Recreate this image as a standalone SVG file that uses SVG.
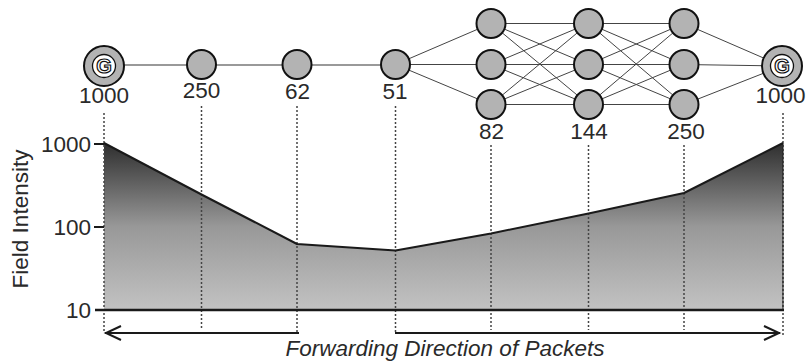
<svg xmlns="http://www.w3.org/2000/svg" width="808" height="363" viewBox="0 0 808 363">
<defs>
<linearGradient id="fill" gradientUnits="userSpaceOnUse" x1="0" y1="143" x2="0" y2="310">
<stop offset="0" stop-color="#2e2e2e"/>
<stop offset="0.5" stop-color="#989898"/>
<stop offset="1" stop-color="#c2c2c2"/>
</linearGradient>
</defs>
<style>
.n{fill:#b3b3b3;stroke:#111;stroke-width:2}
.e{stroke:#444;stroke-width:1;fill:none}
.h{stroke:#777;stroke-width:1.3;fill:none}
.d{stroke:#444;stroke-width:1.5;stroke-dasharray:2 2;fill:none}
.t{font-family:"Liberation Sans",Arial,sans-serif;font-size:22.5px;fill:#2a2a2a}
.m{text-anchor:middle}
.r{text-anchor:end}
.g{font-family:"Liberation Sans",Arial,sans-serif;font-size:20px;font-weight:bold;fill:#fff;stroke:#111;stroke-width:1.2;text-anchor:middle}
.gi{fill:#fff;stroke:#111;stroke-width:1.3}
.ax{stroke:#1a1a1a;stroke-width:2.5;fill:none}
.ar{stroke:#1a1a1a;stroke-width:2;fill:none}
</style>
<rect width="808" height="363" fill="#fff"/>

<!-- chart -->
<g id="chart">
<polygon points="104,310 104,143 201.5,194.5 297,244 395.5,250.5 491,233.5 588.5,213.5 684,193 783,143 783,310" fill="url(#fill)"/>
<g id="guides">
<line class="d" x1="104" y1="113" x2="104" y2="333"/>
<line class="d" x1="201.5" y1="106" x2="201.5" y2="330"/>
<line class="d" x1="297" y1="106" x2="297" y2="333"/>
<line class="d" x1="395.5" y1="106" x2="395.5" y2="333"/>
<line class="d" x1="491" y1="145" x2="491" y2="330"/>
<line class="d" x1="588.5" y1="145" x2="588.5" y2="330"/>
<line class="d" x1="684" y1="145" x2="684" y2="330"/>
<line class="d" x1="783" y1="113" x2="783" y2="336"/>
</g>
<polyline class="ar" stroke-linejoin="round" points="104,143 201.5,194.5 297,244 395.5,250.5 491,233.5 588.5,213.5 684,193 783,143"/>
<line x1="783" y1="143" x2="783" y2="310" stroke="#1a1a1a" stroke-width="1"/>
<line class="ax" x1="95" y1="310" x2="784" y2="310"/>
<line class="ar" x1="94" y1="144" x2="104" y2="144"/>
<line class="ar" x1="94" y1="227" x2="104" y2="227"/>
<text class="t r" x="91" y="152">1000</text>
<text class="t r" x="91" y="235">100</text>
<text class="t r" x="91" y="318">10</text>
<text class="t m" transform="translate(28,219) rotate(-90)">Field Intensity</text>
<line class="ar" x1="105" y1="333" x2="299" y2="333"/>
<polyline class="ar" points="121,326 106,333 121,340"/>
<line class="ar" x1="395" y1="333" x2="780" y2="333"/>
<polyline class="ar" points="764,326 779,333 764,340"/>
<text class="t m" x="445" y="356" font-style="italic" font-size="23">Forwarding Direction of Packets</text>
</g>

<!-- connectors -->
<g id="connectors">
<line class="h" x1="104" y1="65" x2="395.5" y2="65"/>
<line class="e" x1="395.5" y1="64.5" x2="491" y2="23.5"/>
<line class="e" x1="395.5" y1="64.5" x2="491" y2="64.5"/>
<line class="e" x1="395.5" y1="64.5" x2="491" y2="104.5"/>
<line class="e" x1="491" y1="23.5" x2="588.5" y2="23.5"/>
<line class="e" x1="491" y1="23.5" x2="588.5" y2="64.5"/>
<line class="e" x1="491" y1="23.5" x2="588.5" y2="104.5"/>
<line class="e" x1="491" y1="64.5" x2="588.5" y2="23.5"/>
<line class="e" x1="491" y1="64.5" x2="588.5" y2="64.5"/>
<line class="e" x1="491" y1="64.5" x2="588.5" y2="104.5"/>
<line class="e" x1="491" y1="104.5" x2="588.5" y2="23.5"/>
<line class="e" x1="491" y1="104.5" x2="588.5" y2="64.5"/>
<line class="e" x1="491" y1="104.5" x2="588.5" y2="104.5"/>
<line class="e" x1="588.5" y1="23.5" x2="684" y2="23.5"/>
<line class="e" x1="588.5" y1="23.5" x2="684" y2="64.5"/>
<line class="e" x1="588.5" y1="23.5" x2="684" y2="104.5"/>
<line class="e" x1="588.5" y1="64.5" x2="684" y2="23.5"/>
<line class="e" x1="588.5" y1="64.5" x2="684" y2="64.5"/>
<line class="e" x1="588.5" y1="64.5" x2="684" y2="104.5"/>
<line class="e" x1="588.5" y1="104.5" x2="684" y2="23.5"/>
<line class="e" x1="588.5" y1="104.5" x2="684" y2="64.5"/>
<line class="e" x1="588.5" y1="104.5" x2="684" y2="104.5"/>
<line class="e" x1="684" y1="23.5" x2="782" y2="66"/>
<line class="e" x1="684" y1="64.5" x2="782" y2="66"/>
<line class="e" x1="684" y1="104.5" x2="782" y2="66"/>
</g>

<!-- nodes -->
<g id="gw-left"><circle class="n" cx="104" cy="66" r="20"/><circle class="gi" cx="104" cy="66" r="11.5"/><text class="g" x="104" y="73.2">G</text><text class="t m" x="104" y="103">1000</text></g>
<g id="n250a"><circle class="n" cx="201.5" cy="64.5" r="14.5"/><text class="t m" x="201.5" y="98">250</text></g>
<g id="n62"><circle class="n" cx="297" cy="64.5" r="14.5"/><text class="t m" x="297.5" y="99">62</text></g>
<g id="n51"><circle class="n" cx="395.5" cy="64.5" r="14.5"/><text class="t m" x="395" y="99">51</text></g>
<g id="c1a"><circle class="n" cx="491" cy="23.5" r="14.5"/></g>
<g id="c1b"><circle class="n" cx="491" cy="64.5" r="14.5"/></g>
<g id="n82"><circle class="n" cx="491" cy="104.5" r="14.5"/><text class="t m" x="491.5" y="139">82</text></g>
<g id="c2a"><circle class="n" cx="588.5" cy="23.5" r="14.5"/></g>
<g id="c2b"><circle class="n" cx="588.5" cy="64.5" r="14.5"/></g>
<g id="n144"><circle class="n" cx="588.5" cy="104.5" r="14.5"/><text class="t m" x="589" y="139">144</text></g>
<g id="c3a"><circle class="n" cx="684" cy="23.5" r="14.5"/></g>
<g id="c3b"><circle class="n" cx="684" cy="64.5" r="14.5"/></g>
<g id="n250b"><circle class="n" cx="684" cy="104.5" r="14.5"/><text class="t m" x="686" y="139">250</text></g>
<g id="gw-right"><circle class="n" cx="782" cy="66" r="20"/><circle class="gi" cx="782" cy="66" r="11.5"/><text class="g" x="782" y="73.2">G</text><text class="t m" x="780.5" y="103">1000</text></g>
</svg>
